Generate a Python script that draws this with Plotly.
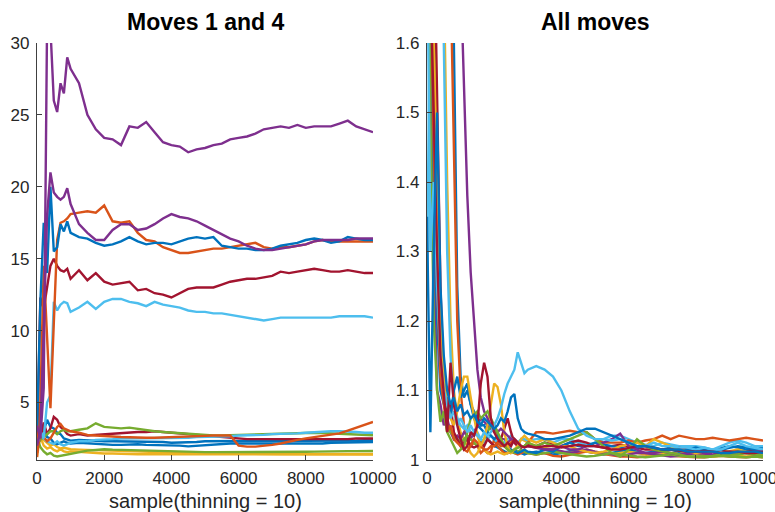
import plotly.graph_objects as go

# MATLAB default line colours
BLUE = "#0072BD"
ORANGE = "#D95319"
YELLOW = "#EDB120"
PURPLE = "#7E2F8E"
GREEN = "#77AC30"
LIGHTBLUE = "#4DBEEE"
DARKRED = "#A2142F"

# ---------------- Left panel: moves 1 and 4 ----------------
samples_left = list(range(0, 1001, 100)) + list(range(1250, 10001, 250))

left_purple_top = [3.4, 2.5, 6.0, 31.5, 31.0, 26.0, 25.2, 27.2, 26.5, 29.0, 28.2,
                   27.2, 25.0, 24.0, 23.4, 23.3, 22.9, 24.2, 24.1, 24.5, 23.8, 23.1, 22.9,
                   22.8, 22.4, 22.6, 22.7, 22.9, 23.0, 23.3, 23.4, 23.5, 23.7, 24.0, 24.1,
                   24.2, 24.1, 24.3, 24.1, 24.2, 24.2, 24.2, 24.4, 24.6, 24.2, 24.0, 23.8]
left_purple_mid = [2.0, 3.0, 10.0, 18.0, 21.0, 19.6, 19.3, 19.1, 19.3, 19.9, 18.8,
                   17.4, 16.8, 16.3, 16.3, 17.0, 17.4, 17.4, 17.0, 17.1, 17.4, 17.8, 18.1,
                   17.9, 17.8, 17.6, 17.3, 17.0, 16.7, 16.4, 16.2, 15.9, 15.7, 15.6, 15.6,
                   15.7, 15.8, 15.9, 16.0, 16.2, 16.3, 16.3, 16.3, 16.3, 16.4, 16.4, 16.4]
left_blue_mid = [3.0, 12.0, 17.5, 14.0, 20.0, 15.5, 15.8, 17.4, 16.9, 17.6, 16.8,
                 16.5, 16.4, 16.1, 15.9, 16.0, 16.2, 16.5, 16.2, 16.0, 16.1, 16.1, 16.0,
                 16.2, 16.4, 16.5, 16.4, 16.5, 15.9, 15.8, 15.7, 15.7, 15.6, 15.6, 15.7,
                 15.9, 16.0, 16.1, 16.3, 16.4, 16.3, 16.1, 16.2, 16.5, 16.4, 16.3, 16.3]
left_orange_mid = [1.2, 5.0, 14.5, 9.0, 4.6, 10.5, 16.3, 17.5, 17.6, 17.8, 18.1,
                   18.2, 18.3, 18.2, 18.7, 17.6, 17.5, 17.6, 16.8, 16.3, 16.2, 15.8, 15.6,
                   15.4, 15.4, 15.5, 15.6, 15.7, 15.7, 15.8, 15.9, 16.0, 16.1, 15.8, 15.7,
                   15.8, 15.8, 15.9, 16.0, 16.2, 16.3, 16.2, 16.2, 16.2, 16.2, 16.2, 16.2]
left_darkred_mid = [1.5, 12.3, 11.5, 13.0, 14.5, 15.0, 14.5, 14.2, 14.1, 14.3, 13.6,
                    14.2, 13.5, 14.0, 13.4, 13.2, 13.3, 13.4, 12.8, 12.9, 12.6, 12.5, 12.3,
                    12.6, 12.9, 13.0, 13.0, 13.0, 13.2, 13.4, 13.5, 13.6, 13.6, 13.7, 13.8,
                    14.1, 14.0, 14.1, 14.2, 14.3, 14.2, 14.1, 14.1, 14.2, 14.1, 14.0, 14.0]
left_lightblue_mid = [2.0, 3.0, 2.5, 5.0, 5.5, 12.0, 11.4, 11.8, 12.0, 11.9, 11.3,
                      11.6, 12.0, 11.5, 12.0, 12.2, 12.2, 12.0, 11.9, 11.7, 12.0, 11.8, 11.7,
                      11.6, 11.4, 11.3, 11.3, 11.2, 11.2, 11.1, 11.0, 10.9, 10.8, 10.7, 10.8,
                      10.9, 10.9, 10.9, 10.9, 10.9, 10.9, 10.9, 11.0, 11.0, 11.0, 11.0, 10.9]
left_orange_low = [1.5, 2.8, 2.6, 2.3, 2.5, 2.9, 3.3, 3.5, 3.2, 3.1, 3.0,
                   2.9, 2.75, 2.7, 2.65, 2.6, 2.6, 2.58, 2.55, 2.55, 2.55, 2.58, 2.6,
                   2.6, 2.62, 2.65, 2.68, 2.7, 2.72, 2.7, 2.0, 1.93, 1.93, 1.97, 2.05,
                   2.15, 2.3, 2.4, 2.5, 2.58, 2.65, 2.75, 2.85, 3.05, 3.25, 3.45, 3.65]
left_lightblue_low = [2.6, 3.0, 2.5, 2.3, 2.2, 2.1, 2.3, 2.1, 2.0, 2.1, 2.2,
                      2.3, 2.3, 2.4, 2.4, 2.45, 2.5, 2.5, 2.5, 2.5, 2.5, 2.5, 2.5,
                      2.55, 2.55, 2.6, 2.6, 2.6, 2.65, 2.65, 2.7, 2.7, 2.75, 2.75, 2.8,
                      2.8, 2.85, 2.85, 2.9, 2.95, 2.95, 3.0, 3.0, 3.0, 2.95, 2.9, 2.9]
left_green_top = [2.0, 2.4, 2.6, 2.8, 3.0, 3.0, 2.8, 3.0, 3.1, 3.0, 3.0,
                  3.1, 3.2, 3.55, 3.3, 3.25, 3.2, 3.25, 3.15, 3.05, 3.0, 2.95, 2.9,
                  2.85, 2.8, 2.75, 2.7, 2.7, 2.7, 2.72, 2.72, 2.75, 2.78, 2.8, 2.82,
                  2.85, 2.88, 2.9, 2.9, 2.9, 2.88, 2.85, 2.82, 2.8, 2.78, 2.75, 2.72]
left_darkred_low = [3.0, 2.5, 3.6, 2.8, 3.2, 4.0, 3.8, 3.3, 3.1, 2.8, 2.7,
                    2.8, 2.7, 2.75, 2.8, 2.8, 2.85, 2.9, 2.95, 2.95, 3.0, 2.95, 2.9,
                    2.85, 2.8, 2.7, 2.65, 2.6, 2.55, 2.5, 2.5, 2.45, 2.45, 2.45, 2.45,
                    2.45, 2.4, 2.4, 2.4, 2.4, 2.4, 2.42, 2.45, 2.45, 2.5, 2.5, 2.5]
left_blue_low1 = [2.5, 3.4, 3.0, 3.8, 3.3, 3.2, 2.9, 2.8, 2.5, 2.4, 2.35,
                  2.4, 2.35, 2.35, 2.3, 2.3, 2.3, 2.25, 2.3, 2.3, 2.25, 2.25, 2.2,
                  2.2, 2.25, 2.25, 2.3, 2.3, 2.3, 2.35, 2.35, 2.35, 2.35, 2.3, 2.3,
                  2.3, 2.3, 2.3, 2.3, 2.3, 2.32, 2.33, 2.35, 2.35, 2.35, 2.38, 2.4]
left_blue_low2 = [2.0, 2.8, 3.2, 2.6, 2.5, 2.2, 2.1, 2.2, 2.3, 2.2, 2.15,
                  2.2, 2.15, 2.1, 2.1, 2.05, 2.05, 2.1, 2.1, 2.05, 2.05, 2.0, 2.0,
                  2.0, 1.95, 2.0, 2.05, 2.1, 2.1, 2.15, 2.15, 2.15, 2.15, 2.15, 2.1,
                  2.1, 2.1, 2.15, 2.15, 2.15, 2.15, 2.2, 2.2, 2.2, 2.22, 2.25, 2.25]
left_green_low = [2.6, 1.9, 1.6, 1.4, 1.5, 1.3, 1.25, 1.3, 1.3, 1.4, 1.45,
                  1.55, 1.65, 1.7, 1.75, 1.72, 1.7, 1.7, 1.68, 1.65, 1.62, 1.6, 1.6,
                  1.58, 1.57, 1.56, 1.55, 1.55, 1.55, 1.54, 1.52, 1.52, 1.52, 1.53, 1.53,
                  1.54, 1.55, 1.56, 1.57, 1.58, 1.6, 1.6, 1.6, 1.62, 1.62, 1.63, 1.63]
left_yellow_low = [2.3, 2.6, 2.0, 1.8, 1.9, 1.7, 1.6, 1.75, 1.6, 1.55, 1.6,
                   1.55, 1.5, 1.5, 1.45, 1.45, 1.42, 1.42, 1.4, 1.4, 1.4, 1.38, 1.38,
                   1.38, 1.37, 1.37, 1.37, 1.36, 1.36, 1.36, 1.35, 1.35, 1.35, 1.36, 1.36,
                   1.36, 1.37, 1.37, 1.37, 1.38, 1.38, 1.38, 1.38, 1.38, 1.38, 1.38, 1.38]
left_yellow_low2 = [1.2, 2.8, 2.4, 2.2, 2.0, 2.1, 1.9, 1.8, 1.85, 1.8, 1.75,
                    1.72, 1.7, 1.68, 1.65, 1.63, 1.6, 1.58, 1.56, 1.55, 1.53, 1.52, 1.5,
                    1.5, 1.48, 1.47, 1.46, 1.45, 1.45, 1.44, 1.44, 1.43, 1.43, 1.43, 1.42,
                    1.42, 1.42, 1.42, 1.42, 1.42, 1.42, 1.42, 1.42, 1.42, 1.42, 1.42, 1.42]

left_series = [
    (left_yellow_low, YELLOW), (left_yellow_low2, YELLOW), (left_green_low, GREEN),
    (left_blue_low2, BLUE), (left_blue_low1, BLUE), (left_darkred_low, DARKRED),
    (left_green_top, GREEN), (left_lightblue_low, LIGHTBLUE), (left_orange_low, ORANGE),
    (left_lightblue_mid, LIGHTBLUE), (left_darkred_mid, DARKRED), (left_orange_mid, ORANGE),
    (left_blue_mid, BLUE), (left_purple_mid, PURPLE), (left_purple_top, PURPLE),
]

# ---------------- Right panel: all moves ----------------
samples_right = list(range(0, 3001, 100)) + list(range(3250, 10001, 250))

right_purple = [1.9, 1.9, 1.9, 1.9, 1.9, 1.9, 1.9, 1.9, 1.9, 1.9, 1.7, 1.52, 1.38, 1.27, 1.2, 1.13,
                1.09, 1.07, 1.06, 1.05, 1.05, 1.04, 1.045, 1.04, 1.035, 1.03, 1.03, 1.025, 1.02, 1.02, 1.02,
                1.02, 1.015, 1.015, 1.02, 1.015, 1.015, 1.02, 1.02, 1.025, 1.03, 1.038, 1.02, 1.015, 1.01,
                1.01, 1.012, 1.01, 1.008, 1.01, 1.012, 1.01, 1.008, 1.01, 1.012, 1.01, 1.01, 1.012, 1.012]
right_lightblue = [1.8, 1.3, 1.4, 1.25, 1.15, 1.1, 1.08, 1.06, 1.07, 1.05, 1.06, 1.05, 1.04, 1.05, 1.04, 1.035,
                   1.03, 1.04, 1.035, 1.04, 1.05, 1.06, 1.075, 1.095, 1.11, 1.12, 1.13, 1.155, 1.14, 1.125, 1.13,
                   1.135, 1.13, 1.12, 1.1, 1.07, 1.045, 1.035, 1.03, 1.03, 1.028, 1.03, 1.025, 1.02, 1.02,
                   1.025, 1.02, 1.02, 1.018, 1.018, 1.015, 1.018, 1.015, 1.015, 1.02, 1.025, 1.02, 1.018, 1.015]
right_blue = [1.35, 1.04, 1.3, 1.5, 1.25, 1.15, 1.1, 1.08, 1.09, 1.07, 1.08, 1.065, 1.07, 1.06, 1.065, 1.055,
              1.05, 1.06, 1.055, 1.05, 1.045, 1.05, 1.06, 1.055, 1.07, 1.09, 1.095, 1.06, 1.045, 1.04, 1.038,
              1.035, 1.03, 1.03, 1.032, 1.035, 1.04, 1.045, 1.045, 1.04, 1.035, 1.03, 1.025, 1.02, 1.02,
              1.018, 1.015, 1.015, 1.015, 1.012, 1.012, 1.012, 1.012, 1.01, 1.01, 1.012, 1.012, 1.012, 1.01]
right_darkred = [1.9, 1.7, 1.5, 1.3, 1.15, 1.09, 1.04, 1.14, 1.08, 1.05, 1.03, 1.015, 1.02, 1.04, 1.035, 1.05,
                 1.11, 1.14, 1.12, 1.06, 1.04, 1.03, 1.025, 1.02, 1.025, 1.02, 1.03, 1.025, 1.02, 1.018, 1.02,
                 1.018, 1.02, 1.02, 1.018, 1.02, 1.022, 1.02, 1.02, 1.018, 1.015, 1.015, 1.018, 1.02, 1.02,
                 1.018, 1.015, 1.015, 1.013, 1.012, 1.012, 1.013, 1.012, 1.01, 1.012, 1.012, 1.01, 1.01, 1.012]
right_yellow = [1.9, 1.8, 1.6, 1.4, 1.2, 1.12, 1.08, 1.06, 1.05, 1.07, 1.1, 1.12, 1.12, 1.09, 1.06, 1.035,
                1.02, 1.03, 1.05, 1.08, 1.11, 1.105, 1.08, 1.04, 1.02, 1.01, 1.015, 1.02, 1.03, 1.035, 1.03,
                1.025, 1.03, 1.025, 1.02, 1.02, 1.015, 1.012, 1.01, 1.012, 1.015, 1.02, 1.022, 1.025, 1.02,
                1.03, 1.025, 1.02, 1.015, 1.012, 1.01, 1.01, 1.012, 1.01, 1.012, 1.015, 1.012, 1.01, 1.008]
right_orange = [1.9, 1.7, 1.45, 1.25, 1.12, 1.08, 1.04, 1.05, 1.03, 1.025, 1.02, 1.015, 1.012, 1.02, 1.03, 1.025,
                1.02, 1.015, 1.015, 1.02, 1.02, 1.025, 1.02, 1.02, 1.02, 1.025, 1.03, 1.025, 1.02, 1.02, 1.025,
                1.04, 1.04, 1.038, 1.04, 1.042, 1.04, 1.04, 1.03, 1.025, 1.025, 1.025, 1.028, 1.025, 1.028,
                1.03, 1.035, 1.03, 1.035, 1.032, 1.03, 1.03, 1.032, 1.03, 1.028, 1.03, 1.032, 1.03, 1.028]
right_green = [1.9, 1.5, 1.2, 1.1, 1.055, 1.07, 1.04, 1.03, 1.02, 1.01, 1.015, 1.02, 1.04, 1.06, 1.065, 1.07,
               1.06, 1.065, 1.07, 1.06, 1.05, 1.04, 1.03, 1.02, 1.015, 1.012, 1.015, 1.018, 1.02, 1.02, 1.025,
               1.02, 1.025, 1.02, 1.025, 1.03, 1.035, 1.04, 1.03, 1.02, 1.01, 1.005, 1.015, 1.03, 1.02,
               1.015, 1.012, 1.01, 1.008, 1.005, 1.005, 1.005, 1.006, 1.008, 1.008, 1.008, 1.01, 1.008, 1.006]
right_orange2 = [1.9, 1.9, 1.9, 1.9, 1.9, 1.9, 1.9, 1.7, 1.45, 1.2, 1.1, 1.05, 1.03, 1.02, 1.025, 1.02,
                 1.01, 1.015, 1.01, 1.012, 1.03, 1.02, 1.015, 1.01, 1.01, 1.012, 1.01, 1.008, 1.01, 1.012, 1.01,
                 1.008, 1.01, 1.006, 1.005, 1.008, 1.01, 1.012, 1.01, 1.008, 1.006, 1.005, 1.005, 1.004, 1.005,
                 1.006, 1.008, 1.006, 1.005, 1.005, 1.004, 1.004, 1.005, 1.006, 1.005, 1.004, 1.004, 1.005, 1.004]
right_blue2 = [1.9, 1.7, 1.4, 1.2, 1.1, 1.08, 1.09, 1.06, 1.1, 1.12, 1.09, 1.1, 1.11, 1.08, 1.07, 1.06,
               1.05, 1.05, 1.04, 1.035, 1.03, 1.035, 1.025, 1.02, 1.02, 1.015, 1.012, 1.01, 1.012, 1.015, 1.012,
               1.01, 1.015, 1.012, 1.02, 1.025, 1.02, 1.02, 1.025, 1.022, 1.02, 1.018, 1.015, 1.018, 1.02,
               1.018, 1.015, 1.015, 1.012, 1.015, 1.018, 1.015, 1.012, 1.015, 1.018, 1.02, 1.018, 1.015, 1.015]
right_lightblue2 = [1.26, 1.7, 1.9, 1.9, 1.9, 1.6, 1.3, 1.15, 1.08, 1.06, 1.05, 1.045, 1.05, 1.04, 1.035, 1.04,
                    1.03, 1.025, 1.03, 1.035, 1.03, 1.025, 1.02, 1.025, 1.03, 1.035, 1.03, 1.025, 1.03, 1.03, 1.028,
                    1.03, 1.03, 1.025, 1.03, 1.03, 1.025, 1.022, 1.025, 1.03, 1.035, 1.035, 1.03, 1.025, 1.022,
                    1.02, 1.025, 1.022, 1.02, 1.02, 1.02, 1.018, 1.015, 1.02, 1.025, 1.028, 1.025, 1.02, 1.02]
right_darkred2 = [1.9, 1.9, 1.8, 1.5, 1.25, 1.1, 1.06, 1.08, 1.04, 1.03, 1.02, 1.025, 1.03, 1.02, 1.018, 1.02,
                  1.025, 1.02, 1.03, 1.025, 1.02, 1.025, 1.03, 1.045, 1.06, 1.04, 1.025, 1.02, 1.018, 1.02, 1.022,
                  1.02, 1.025, 1.022, 1.02, 1.025, 1.028, 1.025, 1.02, 1.018, 1.02, 1.022, 1.02, 1.018, 1.015,
                  1.015, 1.012, 1.015, 1.018, 1.015, 1.012, 1.01, 1.012, 1.015, 1.012, 1.01, 1.012, 1.015, 1.015]
right_purple2 = [1.9, 1.6, 1.3, 1.1, 1.08, 1.05, 1.06, 1.04, 1.03, 1.035, 1.03, 1.04, 1.035, 1.03, 1.04, 1.05,
                 1.06, 1.055, 1.05, 1.045, 1.04, 1.035, 1.03, 1.03, 1.025, 1.03, 1.025, 1.02, 1.018, 1.02, 1.02,
                 1.018, 1.015, 1.015, 1.012, 1.01, 1.012, 1.015, 1.012, 1.01, 1.008, 1.006, 1.008, 1.01, 1.01,
                 1.008, 1.006, 1.005, 1.006, 1.008, 1.01, 1.008, 1.006, 1.006, 1.008, 1.01, 1.01, 1.008, 1.008]
right_yellow2 = [1.9, 1.9, 1.9, 1.9, 1.9, 1.7, 1.4, 1.2, 1.1, 1.06, 1.04, 1.03, 1.02, 1.01, 1.005, 1.01,
                 1.02, 1.015, 1.01, 1.008, 1.01, 1.012, 1.01, 1.008, 1.01, 1.012, 1.015, 1.02, 1.03, 1.028, 1.025,
                 1.02, 1.018, 1.015, 1.012, 1.01, 1.012, 1.015, 1.012, 1.01, 1.008, 1.01, 1.012, 1.01, 1.008,
                 1.006, 1.008, 1.01, 1.012, 1.01, 1.008, 1.006, 1.005, 1.006, 1.008, 1.006, 1.005, 1.006, 1.005]
right_green2 = [1.9, 1.9, 1.7, 1.4, 1.2, 1.1, 1.05, 1.04, 1.035, 1.03, 1.025, 1.03, 1.035, 1.03, 1.025, 1.02,
                1.025, 1.03, 1.04, 1.05, 1.045, 1.035, 1.03, 1.02, 1.015, 1.012, 1.01, 1.012, 1.015, 1.012, 1.01,
                1.008, 1.01, 1.012, 1.01, 1.008, 1.006, 1.005, 1.006, 1.008, 1.01, 1.008, 1.006, 1.005, 1.004,
                1.005, 1.006, 1.008, 1.006, 1.005, 1.004, 1.004, 1.005, 1.006, 1.005, 1.004, 1.004, 1.005, 1.004]
right_blue3 = [1.9, 1.9, 1.9, 1.9, 1.9, 1.9, 1.9, 1.9, 1.6, 1.25, 1.12, 1.09, 1.1, 1.08, 1.06, 1.05,
               1.045, 1.04, 1.03, 1.025, 1.02, 1.018, 1.015, 1.012, 1.01, 1.012, 1.015, 1.012, 1.01, 1.008, 1.01,
               1.012, 1.01, 1.008, 1.01, 1.012, 1.015, 1.012, 1.01, 1.008, 1.01, 1.012, 1.015, 1.012, 1.01,
               1.012, 1.015, 1.018, 1.015, 1.012, 1.01, 1.012, 1.015, 1.018, 1.02, 1.018, 1.015, 1.015, 1.018]

right_series = [
    (right_blue3, BLUE), (right_orange2, ORANGE), (right_yellow2, YELLOW), (right_purple2, PURPLE),
    (right_green2, GREEN), (right_lightblue2, LIGHTBLUE), (right_darkred2, DARKRED),
    (right_blue2, BLUE), (right_orange, ORANGE), (right_yellow, YELLOW), (right_purple, PURPLE),
    (right_green, GREEN), (right_lightblue, LIGHTBLUE), (right_darkred, DARKRED), (right_blue, BLUE),
]

fig = go.Figure()
for ys, col in left_series:
    fig.add_trace(go.Scatter(x=samples_left, y=ys, mode="lines", xaxis="x", yaxis="y",
                             line=dict(color=col, width=2.4), showlegend=False, hoverinfo="skip"))
for ys, col in right_series:
    fig.add_trace(go.Scatter(x=samples_right, y=ys, mode="lines", xaxis="x2", yaxis="y2",
                             line=dict(color=col, width=2.4), showlegend=False, hoverinfo="skip"))

FONT = "Liberation Sans, Arial, Helvetica, sans-serif"
AX_COLOR = "#404040"
TICK_FONT = dict(family=FONT, size=17, color="#262626")

x_ticks = [0, 2000, 4000, 6000, 8000, 10000]
x_tick_text = ["0", "2000", "4000", "6000", "8000", "10000"]
left_y_ticks = [5, 10, 15, 20, 25, 30]
right_y_ticks = [1, 1.1, 1.2, 1.3, 1.4, 1.5, 1.6]
right_y_text = ["1", "1.1", "1.2", "1.3", "1.4", "1.5", "1.6"]

W, H = 775, 512
left_px, right_px = (37, 373), (427, 763)
top_px, bottom_px = 43, 460

common_axis = dict(showline=True, linecolor=AX_COLOR, linewidth=1.3, ticks="inside", ticklen=5,
                   tickwidth=1, tickcolor=AX_COLOR, showgrid=False, zeroline=False,
                   tickfont=TICK_FONT, automargin=False, mirror=False, ticklabeloverflow="allow")

fig.update_layout(
    width=W, height=H,
    margin=dict(l=0, r=0, t=0, b=0),
    paper_bgcolor="white", plot_bgcolor="white",
    xaxis=dict(domain=[left_px[0] / W, left_px[1] / W], range=[0, 10000], tickvals=x_ticks,
               ticktext=x_tick_text, anchor="y", ticklabelstandoff=2, **common_axis),
    yaxis=dict(domain=[1 - bottom_px / H, 1 - top_px / H], range=[1, 30], tickvals=left_y_ticks,
               anchor="x", ticklabelstandoff=3, **common_axis),
    xaxis2=dict(domain=[right_px[0] / W, right_px[1] / W], range=[0, 10000], tickvals=x_ticks,
                ticktext=x_tick_text, anchor="y2", ticklabelstandoff=2, **common_axis),
    yaxis2=dict(domain=[1 - bottom_px / H, 1 - top_px / H], range=[1, 1.6], tickvals=right_y_ticks,
                ticktext=right_y_text, anchor="x2", ticklabelstandoff=3, **common_axis),
)

titles = [("Moves 1 and 4", left_px), ("All moves", right_px)]
for text, (a, b) in titles:
    cx = (a + b) / 2 / W
    fig.add_annotation(text=f"<b>{text}</b>", x=cx, y=1 - 22 / H, xref="paper", yref="paper",
                       xanchor="center", yanchor="middle", showarrow=False,
                       font=dict(family=FONT, size=23, color="black"))
    fig.add_annotation(text="sample(thinning = 10)", x=cx, y=1 - 501 / H, xref="paper", yref="paper",
                       xanchor="center", yanchor="middle", showarrow=False,
                       font=dict(family=FONT, size=20, color="#262626"))

fig.write_html("out.html")
